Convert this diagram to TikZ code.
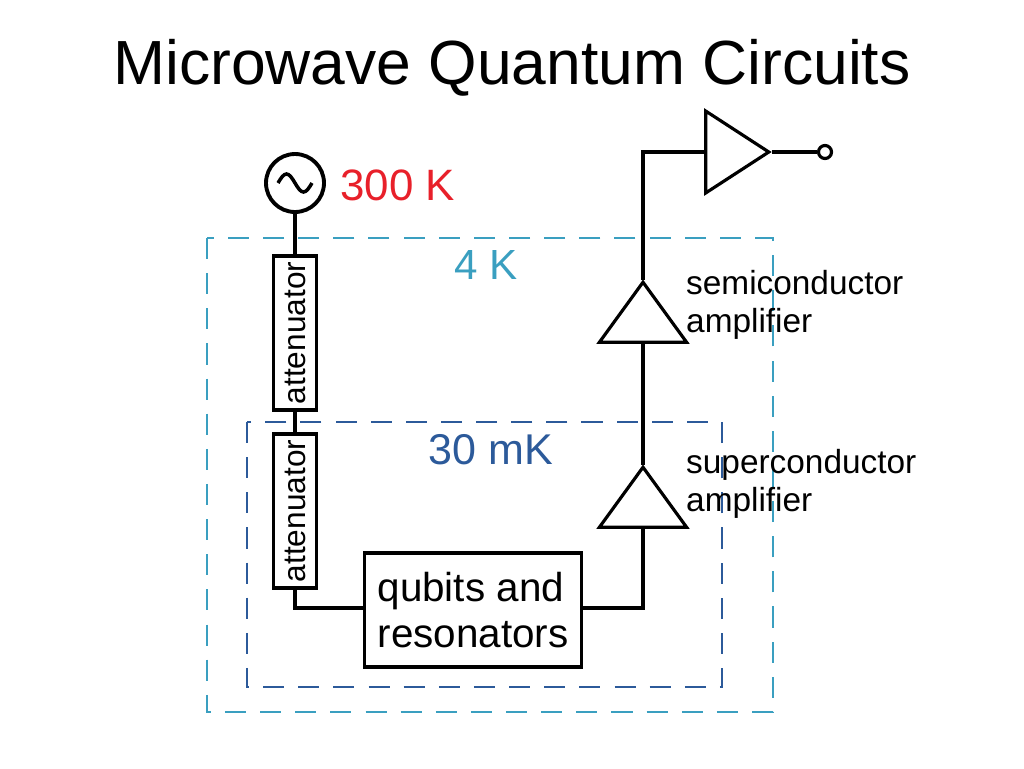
\documentclass[tikz,border=0pt]{standalone}
\usepackage{fontspec}
\setmainfont{Liberation Sans}
\usetikzlibrary{calc, shapes.geometric}
\definecolor{fourK}{HTML}{3A9FC0}
\definecolor{milliK}{HTML}{2C5A9A}
\definecolor{hotred}{HTML}{E8202A}
\tikzset{
    stage-box/.style={dashed, line width=1.3pt, dash pattern=on 12pt off 8pt},
    atten-box/.style={draw, line width=1.8pt, minimum width=0.86cm, minimum height=3.08cm},
    amp-up/.style={draw, line width=1.8pt, isosceles triangle, isosceles triangle apex angle=72, shape border rotate=90, minimum height=1.2cm, inner sep=0pt},
    wire/.style={line width=1.8pt},
}

\begin{document}
\begin{tikzpicture}[x=0.02cm, y=-0.02cm]
        \useasboundingbox (0,0) rectangle (1024,768);

        % TITLE
        \node (TITLE) at (512,68) {\fontsize{35.5}{40}\selectfont Microwave Quantum Circuits};

        % TEMPERATURE STAGES
        \draw[stage-box, fourK]  (207,238) rectangle (773,712);
        \draw[stage-box, milliK] (247,422) rectangle (722,687);
        \node[text=fourK]  (T4K)   at (486,265) {\fontsize{24}{26}\selectfont 4 K};
        \node[text=milliK] (T30MK) at (491,450) {\fontsize{24.5}{26}\selectfont 30 mK};

        % SOURCE
        \node[draw, circle, line width=2.2pt, minimum size=1.16cm] (SRC) at (295,183) {};
        \draw[line width=2pt] ($(SRC)+(-17,0)$) sin ($(SRC)+(-8.5,-9)$) cos ($(SRC)+(0,0)$) sin ($(SRC)+(8.5,9)$) cos ($(SRC)+(17,0)$);
        \node[text=hotred, anchor=west] (T300K) at (334,185) {\fontsize{25}{27}\selectfont 300 K};

        % ATTENUATORS, QUBITS
        \node[atten-box] (ATT1) at (295,333) {};
        \node[rotate=90, inner sep=0pt] at (ATT1) {\fontsize{18}{18}\selectfont attenuator};
        \node[atten-box] (ATT2) at (295,511) {};
        \node[rotate=90, inner sep=0pt] at (ATT2) {\fontsize{18}{18}\selectfont attenuator};
        \node[draw, line width=1.8pt, minimum width=4.34cm, minimum height=2.28cm, align=left,
              font=\fontsize{23}{26}\selectfont] (QB) at (473,610) {qubits and\\resonators};

        % AMPLIFIERS
        \node[amp-up] (SCAMP) at (643,505) {};
        \node[amp-up] (SMAMP) at (643,320) {};
        \node[draw, line width=1.8pt, isosceles triangle, isosceles triangle apex angle=66, minimum height=1.26cm, inner sep=0pt] (OUTAMP) at (728,152) {};
        \node[draw, circle, line width=1.8pt, minimum size=0.26cm, inner sep=0pt] (OUT) at (825,152) {};
        \coordinate (QBOUT) at (643,608);
        \coordinate (ATTOUT) at (295,608);
        \coordinate (UPCOR) at (643,152);

        % WIRES
        \draw[wire] (SRC.south) -- (ATT1.north);
        \draw[wire] (ATT1.south) -- (ATT2.north);
        \draw[wire] (ATT2.south) -- (ATTOUT) -- (QB.west |- ATTOUT);
        \draw[wire] (QB.east |- QBOUT) -- (QBOUT) -- (SCAMP.south);
        \draw[wire] (SCAMP.apex) -- (SMAMP.south);
        \draw[wire] (SMAMP.apex) -- (UPCOR) -- (OUTAMP.west);
        \draw[wire] (OUTAMP.apex) -- (OUT.west);

        % LABELS
        \node[anchor=west, align=left, font=\fontsize{19}{21.5}\selectfont] (SMLBL) at (680,305) {semiconductor\\amplifier};
        \node[anchor=west, align=left, font=\fontsize{19}{21.5}\selectfont] (SCLBL) at (680,484) {superconductor\\amplifier};

    \end{tikzpicture}
\end{document}
